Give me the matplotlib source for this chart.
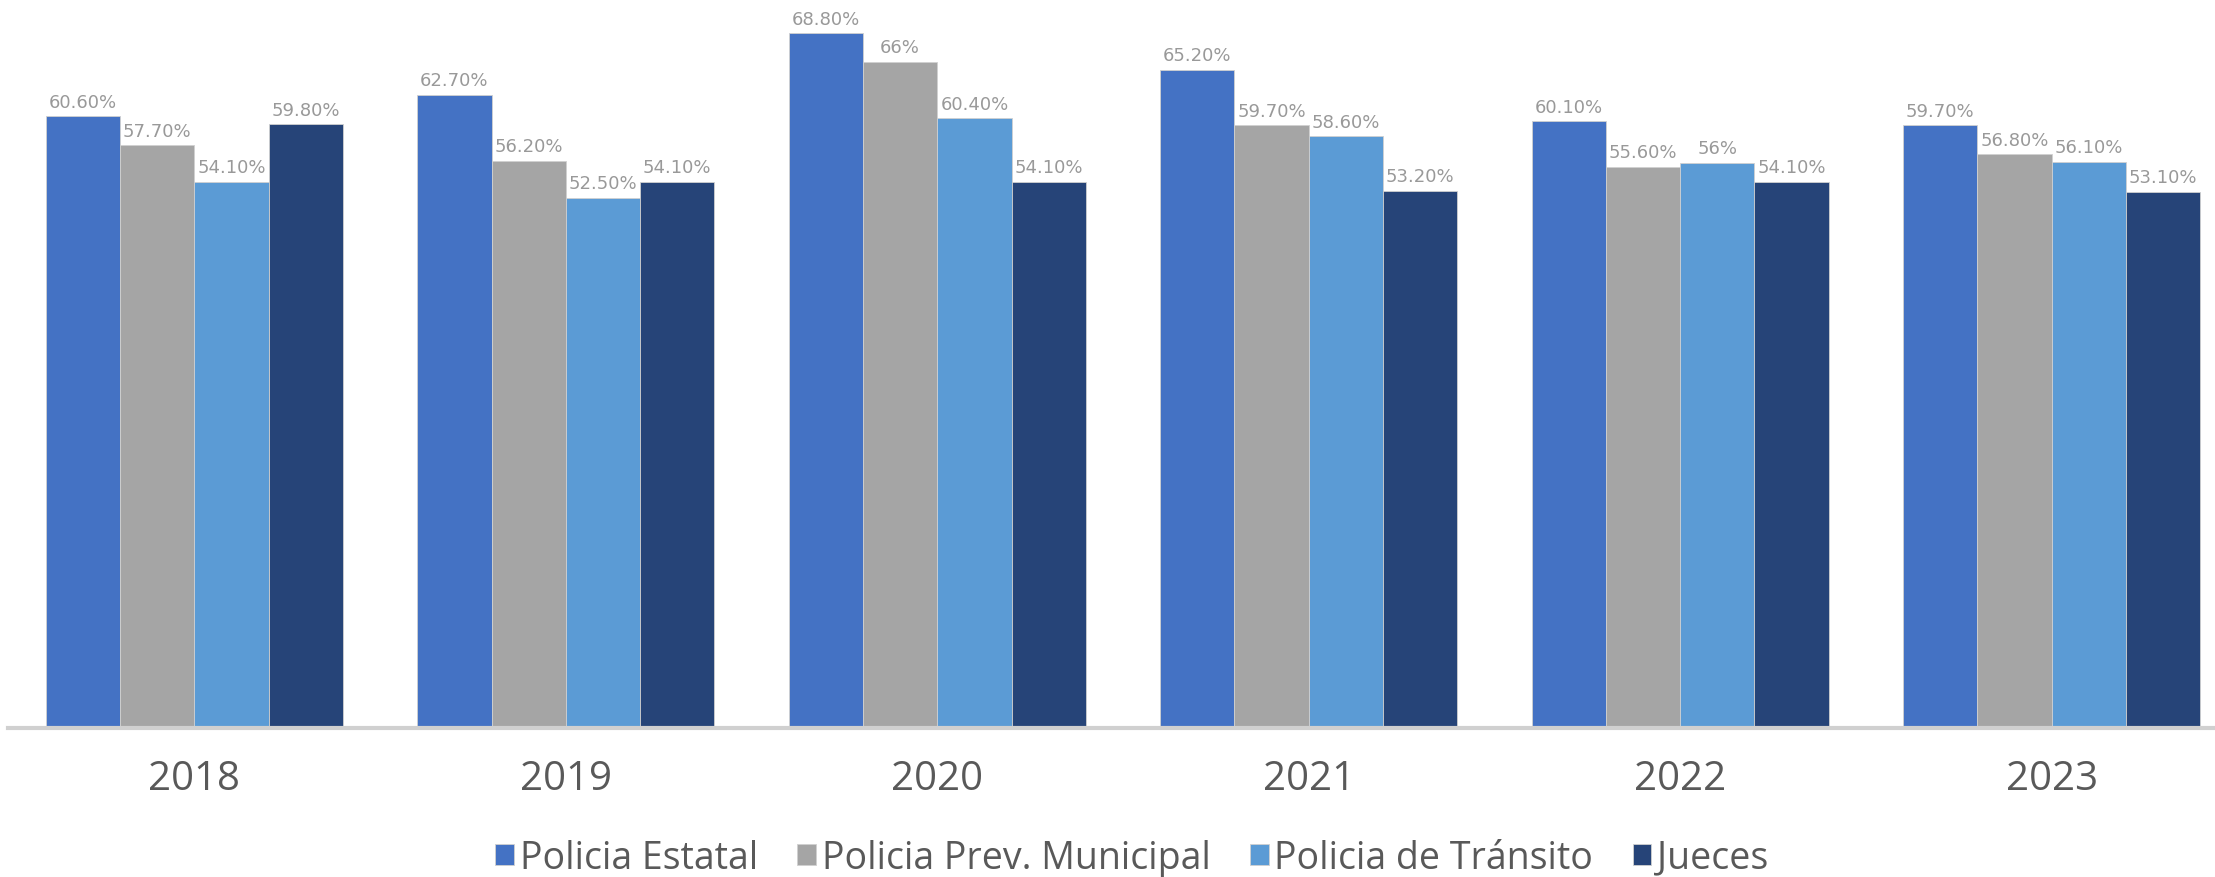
import numpy as np
import matplotlib.pyplot as plt

# Datos (porcentaje de confianza por año)
anios = ['2018', '2019', '2020', '2021', '2022', '2023']
series = ['Policia Estatal', 'Policia Prev. Municipal', 'Policia de Tránsito', 'Jueces']
policia_estatal = [60.6, 62.7, 68.8, 65.2, 60.1, 59.7]
policia_municipal = [57.7, 56.2, 66.0, 59.7, 55.6, 56.8]
policia_transito = [54.1, 52.5, 60.4, 58.6, 56.0, 56.1]
jueces = [59.8, 54.1, 54.1, 53.2, 54.1, 53.1]
colores = ['#4472C4', '#A5A5A5', '#5B9BD5', '#264478']


def etiqueta(v):
    # 66 -> "66%", 60.6 -> "60.60%"
    if v == int(v):
        return f"{int(v)}%"
    return f"{v:.2f}%"


def main():
    fig = plt.figure(figsize=(22.15, 8.78), dpi=100)
    ax = fig.add_axes([0.0036, 0.1697, 0.9964, 0.8303])

    x = np.arange(len(anios))
    ancho = 0.2
    valores = [policia_estatal, policia_municipal, policia_transito, jueces]

    for i, (nombre, vals) in enumerate(zip(series, valores)):
        pos = x + (i - 1.5) * ancho
        barras = ax.bar(pos, vals, width=ancho, color=colores[i], label=nombre,
                        edgecolor='#d0d0d0', linewidth=0.6)
        for b, v in zip(barras, vals):
            ax.annotate(etiqueta(v), (b.get_x() + b.get_width() / 2, v),
                        xytext=(0, 4), textcoords='offset points',
                        ha='center', va='bottom', fontsize=13,
                        color='#999999', family='DejaVu Sans')

    ax.set_xlim(-0.502, 5.44)
    ax.set_ylim(0, 72.2)
    ax.set_xticks(x)
    ax.set_xticklabels(anios, fontsize=29, color='#595959', family='Open Sans')
    ax.tick_params(axis='x', length=0, pad=22)
    ax.set_yticks([])

    for lado in ['top', 'right', 'left']:
        ax.spines[lado].set_visible(False)
    ax.spines['bottom'].set_color('#d0d0d0')
    ax.spines['bottom'].set_linewidth(3)

    fig.legend(loc='center', bbox_to_anchor=(0.511, 0.022), ncol=4,
               frameon=False, handlelength=0.5, handleheight=0.5,
               handletextpad=0.15, columnspacing=1.05,
               prop={'family': 'Open Sans', 'size': 27},
               labelcolor='#595959')

    fig.savefig('out.png', dpi=100)


if __name__ == "__main__":
    main()
